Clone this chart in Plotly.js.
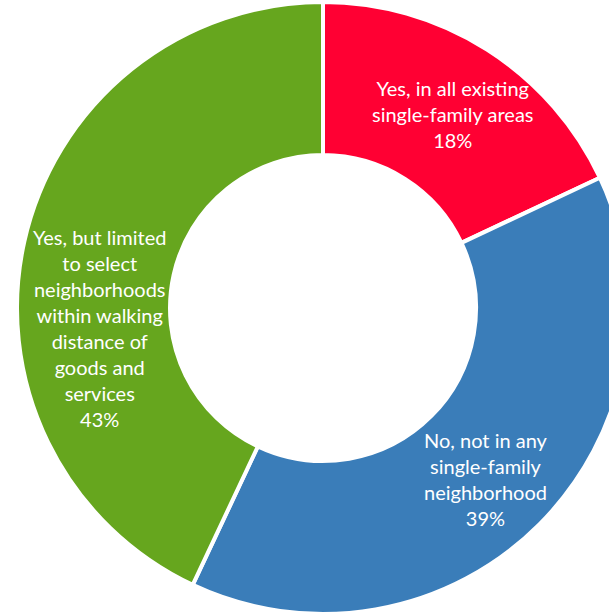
<!DOCTYPE html>
<html>
<head>
<meta charset="utf-8">
<script src="https://cdn.plot.ly/plotly-3.0.1.min.js"></script>
<style>
  html, body { margin: 0; padding: 0; overflow: hidden; background: #fff; }
  #chart { width: 646px; height: 616px; }
</style>
</head>
<body>
<div id="chart"></div>
<script>
const categories = [
  "Yes, in all existing<br>single-family areas",
  "No, not in any<br>single-family<br>neighborhood",
  "Yes, but limited<br>to select<br>neighborhoods<br>within walking<br>distance of<br>goods and<br>services"
];
const shares = [18, 39, 43];
const colors = ["#FF0033", "#3A7DB9", "#66A61E"];

const W = 646, H = 616;
const dom = { x: [0, 1], y: [2/H, 614/H] };
const hole = 0.5;

// label placement: mid-angle of each slice, middle of the ring, with small nudges (px)
const nudges = [{ dx: 7, dy: 0 }, { dx: 1, dy: 9 }, { dx: 0, dy: 70 }];

const total = shares.reduce((a, b) => a + b, 0);
const cx = W * (dom.x[0] + dom.x[1]) / 2;
const cy = H * (1 - (dom.y[0] + dom.y[1]) / 2);
const rOut = Math.min(W * (dom.x[1] - dom.x[0]), H * (dom.y[1] - dom.y[0])) / 2;
const rMid = rOut * (1 + hole) / 2;

let cum = 0;
const annotations = shares.map((v, i) => {
  const mid = (cum + v / 2) / total * 2 * Math.PI;
  cum += v;
  const px = cx + rMid * Math.sin(mid) + nudges[i].dx;
  const py = cy - rMid * Math.cos(mid) + nudges[i].dy;
  return {
    xref: "paper", yref: "paper",
    x: px / W, y: 1 - py / H,
    xanchor: "center", yanchor: "middle",
    text: categories[i] + "<br>" + v + "%",
    showarrow: false,
    align: "center",
    font: { family: "Lato, 'Open Sans', sans-serif", size: 20, color: "#ffffff" }
  };
});

const trace = {
  type: "pie",
  labels: categories,
  values: shares,
  sort: false,
  direction: "clockwise",
  rotation: 0,
  hole: hole,
  marker: { colors: colors, line: { color: "#ffffff", width: 4 } },
  textinfo: "none",
  domain: dom,
  showlegend: false,
  hoverinfo: "none"
};

const layout = {
  width: W,
  height: H,
  margin: { l: 0, r: 0, t: 0, b: 0 },
  paper_bgcolor: "#ffffff",
  annotations: annotations,
  showlegend: false
};

Plotly.newPlot("chart", [trace], layout, { staticPlot: true });
</script>
</body>
</html>
